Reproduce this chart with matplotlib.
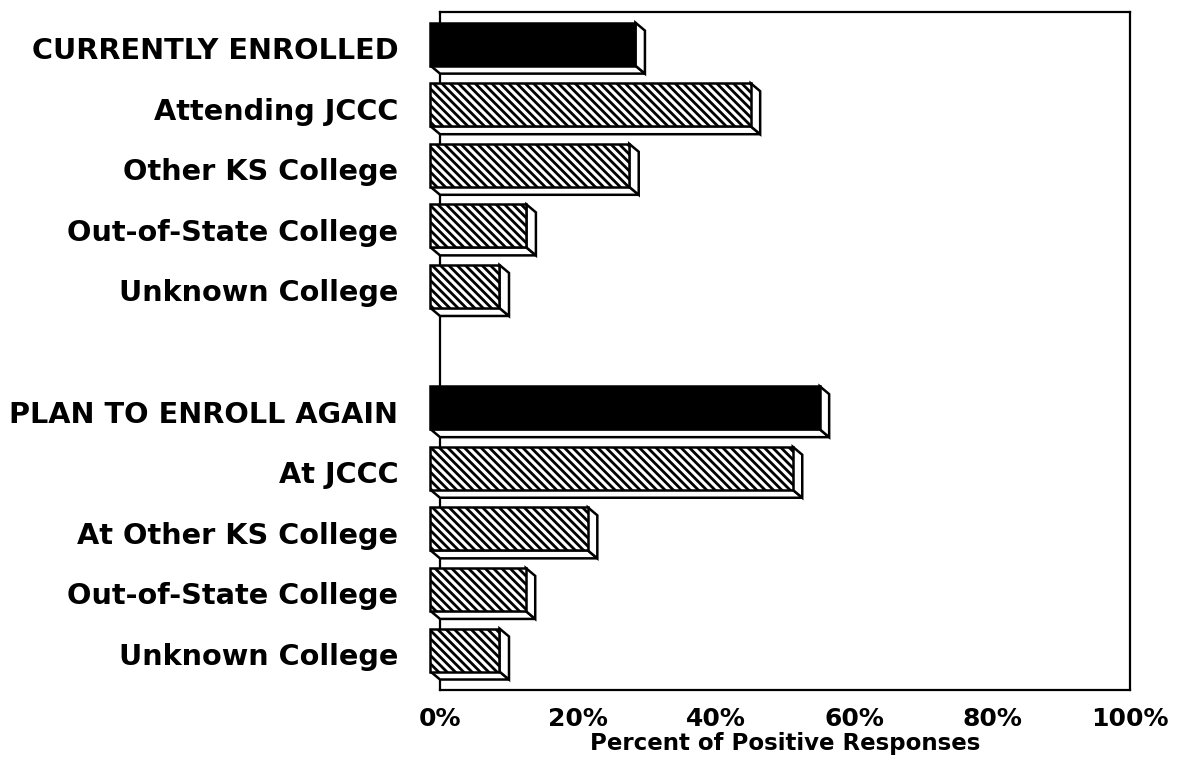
import matplotlib
matplotlib.use("Agg")
import matplotlib.pyplot as plt
from matplotlib.patches import Rectangle, Polygon

# ---- data ----
categories = [
    "CURRENTLY ENROLLED", "Attending JCCC", "Other KS College",
    "Out-of-State College", "Unknown College",
    "PLAN TO ENROLL AGAIN", "At JCCC", "At Other KS College",
    "Out-of-State College", "Unknown College",
]
values = [29.7, 46.4, 28.8, 13.9, 10.0, 56.4, 52.5, 22.8, 13.8, 10.0]
is_header = [True, False, False, False, False, True, False, False, False, False]
rows = [0, 1, 2, 3, 4, 6, 7, 8, 9, 10]
xticks = [0, 20, 40, 60, 80, 100]
xticklabels = ["0%", "20%", "40%", "60%", "80%", "100%"]
xlabel = "Percent of Positive Responses"

plt.rcParams['font.family'] = ['DejaVu Sans']
plt.rcParams['hatch.linewidth'] = 2.0
plt.rcParams['hatch.color'] = 'black'

fig = plt.figure(figsize=(11.77, 7.68), dpi=100)
ax = fig.add_axes([440 / 1177, 1 - 690 / 768, 690 / 1177, 678 / 768])
ax.set_xlim(0, 100)
ax.set_ylim(10.66, -0.53)

dx = 1.38   # depth in x (percent units)
dy = 0.132  # depth in y (row units, downward)
h = 0.355   # half height of front face
lw = 1.8

for r, v, hd in zip(rows, values, is_header):
    x0 = -dx
    x1 = v - dx
    top = r - h
    bot = r + h
    # bottom face
    ax.add_patch(Polygon([(x0, bot), (x1, bot), (x1 + dx, bot + dy), (x0 + dx, bot + dy)],
                         closed=True, facecolor='white', edgecolor='black',
                         linewidth=lw, zorder=3, clip_on=False))
    # side face
    ax.add_patch(Polygon([(x1, top), (x1 + dx, top + dy), (x1 + dx, bot + dy), (x1, bot)],
                         closed=True, facecolor='white', edgecolor='black',
                         linewidth=lw, zorder=3, clip_on=False))
    # front face
    if hd:
        ax.add_patch(Rectangle((x0, top), v, 2 * h, facecolor='black',
                               edgecolor='black', linewidth=lw, zorder=4, clip_on=False))
    else:
        ax.add_patch(Rectangle((x0, top), v, 2 * h, facecolor='white',
                               edgecolor='black', hatch='\\\\\\\\', linewidth=lw,
                               zorder=4, clip_on=False))

ax.set_yticks([r + dy / 2 for r in rows])
ax.set_yticklabels(categories, fontsize=20.7, fontweight='bold')
ax.tick_params(axis='y', length=0, pad=30)

ax.set_xticks(xticks)
ax.set_xticklabels(xticklabels, fontsize=18, fontweight='bold')
ax.tick_params(axis='x', length=0, pad=12)
ax.set_xlabel(xlabel, fontsize=16.5, fontweight='bold', labelpad=1)

for s in ax.spines.values():
    s.set_linewidth(1.6)
    s.set_color('black')

fig.savefig("out.png", dpi=100, facecolor='white')
